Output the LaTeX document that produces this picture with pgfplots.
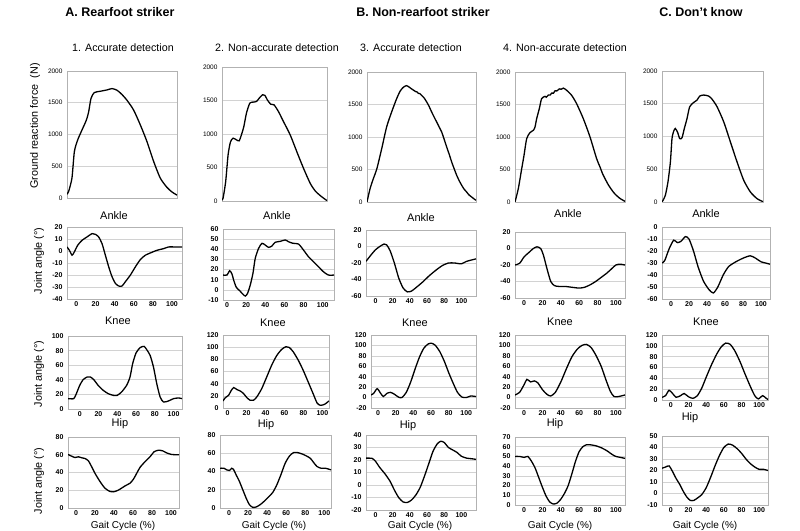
\documentclass[border=0pt]{standalone}
\usepackage{fontspec}
\setmainfont{Liberation Sans}
\usepackage{pgfplots}
\pgfplotsset{compat=1.18}
\pgfplotsset{
  panel/.style={
    scale only axis, anchor=south west,
    axis line style={gray!60, line width=0.6pt},
    ymajorgrids, grid style={gray!35, line width=0.6pt},
    major tick length=0pt,
    /pgf/number format/assume math mode=true,
    /pgf/number format/1000 sep={},
    ticklabel style={font=\fontsize{7}{8}\selectfont\bfseries},
    yticklabel style={xshift=-1pt},
    xticklabel style={yshift=0.5pt},
    xtick={0,20,...,100},
    scaled y ticks=false,
    every axis plot post/.append style={black, line width=1.3pt, smooth, tension=0.4, mark=none},
  },
  grf/.style={panel, xmin=0, xmax=100, ymin=0, ymax=2000, ytick={0,500,...,2000}, xtick=\empty,
    ticklabel style={font=\fontsize{6.5}{7}\selectfont\mdseries}},
}
\begin{document}
\begin{tikzpicture}
\useasboundingbox (0,0) rectangle (800pt,530pt);
% ---------- titles ----------
\node[font=\fontsize{12.5}{14}\selectfont\bfseries] at (120pt,518pt) {A. Rearfoot striker};
\node[font=\fontsize{12.5}{14}\selectfont\bfseries] at (423pt,518pt) {B. Non-rearfoot striker};
\node[font=\fontsize{12.5}{14}\selectfont\bfseries] at (701pt,518pt) {C. Don't know};
\node[font=\fontsize{10.7}{12}\selectfont] at (123pt,482pt) {1. Accurate detection};
\node[font=\fontsize{10.7}{12}\selectfont] at (277pt,482pt) {2. Non-accurate detection};
\node[font=\fontsize{10.7}{12}\selectfont] at (411pt,482pt) {3. Accurate detection};
\node[font=\fontsize{10.7}{12}\selectfont] at (565pt,482pt) {4. Non-accurate detection};
\node[font=\fontsize{10.8}{12}\selectfont, rotate=90] at (35pt,404pt) {Ground reaction force\ \ (N)};
\node[font=\fontsize{10.8}{12}\selectfont, rotate=90] at (39pt,269pt) {Joint angle (°)};
\node[font=\fontsize{10.8}{12}\selectfont, rotate=90] at (39pt,156pt) {Joint angle (°)};
\node[font=\fontsize{10.8}{12}\selectfont, rotate=90] at (39pt,49pt) {Joint angle (°)};
% row titles
\foreach \x/\y in {114/314,277/314,421/312,568/316,706/316}{\node[font=\fontsize{11}{12}\selectfont] at (\x pt,\y pt) {Ankle};}
\foreach \x/\y in {118/209,273/207,415/207,560/208,706/208}{\node[font=\fontsize{11}{12}\selectfont] at (\x pt,\y pt) {Knee};}
\foreach \x/\y in {120/106,266/105,408/104,555/106,690/112}{\node[font=\fontsize{11}{12}\selectfont] at (\x pt,\y pt) {Hip};}
\foreach \x in {123,274,420,560,705}{\node[font=\fontsize{10}{12}\selectfont] at (\x pt,4.5pt) {Gait Cycle (\%)};}

% ================= ROW 1: GRF =================
\begin{axis}[grf, at={(67pt,332pt)}, width=110pt, height=127pt]
\addplot coordinates {(0,60) (1.5,104) (4.5,313) (6.7,731) (9.7,914) (13.6,1070) (17.6,1227) (19.7,1358) (21.8,1567) (24.8,1660) (30.3,1681) (36.4,1702) (40.9,1723) (45.5,1697) (50,1629) (54.5,1540) (60.6,1384) (66.7,1149) (72.7,888) (78.8,574) (84.8,313) (90.9,167) (95.5,94) (100,45)};
\end{axis}
\begin{axis}[grf, at={(222pt,329pt)}, width=105pt, height=134pt]
\addplot coordinates {(0,20) (1,40) (3.5,289) (5.8,688) (8,878) (10.5,938) (13.7,913) (16.3,898) (18.5,988) (20.8,1112) (23.3,1312) (26.5,1461) (29.7,1476) (32.9,1486) (35.5,1536) (38.7,1586) (40.9,1576) (43.1,1511) (46.3,1446) (49.5,1436) (53.7,1337) (58.5,1187) (64.9,988) (71.2,738) (77.6,489) (84,264) (88.8,150) (93.6,80) (100,5)};
\end{axis}
\begin{axis}[grf, at={(367pt,328pt)}, width=109pt, height=130pt]
\addplot coordinates {(0,0) (2.8,205) (5.8,359) (8.9,503) (13.5,821) (18,1154) (22.6,1385) (27.2,1590) (30.3,1703) (33,1760) (36,1790) (38.5,1770) (40.5,1745) (42.5,1722) (44.5,1700) (46,1692) (47,1672) (48.5,1668) (50,1641) (52,1610) (54.8,1538) (57,1470) (59.3,1385) (61.5,1310) (63.9,1231) (66,1160) (68.5,1077) (70.5,980) (73.1,846) (75.5,730) (77.7,615) (80,510) (82.3,410) (84.5,330) (86.9,256) (89,200) (91.4,154) (93.5,110) (96,77) (98,50) (100,26)};
\end{axis}
\begin{axis}[grf, at={(515pt,328pt)}, width=110pt, height=130pt]
\addplot coordinates {(0,0) (3,205) (6.1,513) (8.2,718) (10.6,974) (13.6,1067) (16.7,1103) (18.2,1154) (19.7,1282) (22.1,1436) (24.2,1590) (27.3,1625) (28.5,1612) (30.3,1645) (32,1645) (33.3,1675) (35,1675) (36.4,1712) (38,1708) (40.3,1740) (42,1735) (43.9,1752) (45.5,1738) (47,1718) (51.5,1641) (56,1513) (62.1,1282) (68.2,1000) (74.2,667) (77.3,538) (80,420) (85,260) (90,140) (95,60) (100,10)};
\end{axis}
\begin{axis}[grf, at={(662pt,328pt)}, width=101pt, height=131pt]
\addplot coordinates {(0,0) (1,26) (3.3,102) (5.9,306) (8.3,612) (9.9,969) (11.6,1082) (13.2,1122) (15.5,1061) (17.5,969) (19.8,980) (22.1,1122) (24.8,1276) (27.4,1454) (31.4,1520) (34.7,1556) (37.3,1617) (41.3,1633) (46.2,1617) (49.5,1571) (54.5,1454) (61.1,1224) (67.7,918) (74.3,612) (80.9,332) (87.5,153) (94.1,51) (100,5)};
\end{axis}

% ================= ROW 2: Ankle =================
\begin{axis}[panel, at={(67pt,231pt)}, width=115pt, height=72pt, xmin=-9.8, xmax=110.4, ymin=-40, ymax=20, ytick={-40,-30,...,20}]
\addplot coordinates {(-9.8,3.4) (-7.3,0.6) (-4.5,-3.5) (-2.1,-0.7) (1.4,4.8) (5.9,8.9) (11.1,11.7) (16.4,14.5) (19.9,13.9) (23.3,11.7) (26.8,6.2) (30.3,-3.5) (33.8,-13.2) (37.3,-21.5) (40.8,-27) (44.3,-29.2) (47.7,-29.2) (51.2,-25.6) (56.4,-20.1) (61.7,-13.2) (66.9,-7.1) (72.1,-3.5) (77.4,-1.6) (84.3,0.6) (91.3,2.0) (96.5,3.4) (101.7,3.4) (110.4,3.4)};
\end{axis}
\begin{axis}[panel, at={(223pt,230pt)}, width=111pt, height=71pt, xmin=-4.2, xmax=111.8, ymin=-10, ymax=60, ytick={-10,0,...,60}]
\addplot coordinates {(-4.2,14.6) (0,14.6) (2.8,18.9) (5.2,15.6) (6.9,9.7) (9.7,2.5) (13.2,-0.8) (16.7,-4.4) (19.1,-6.1) (21.5,-3.4) (24.3,4.8) (27.1,16.3) (29.5,31.1) (33,40.9) (36.5,45.9) (39.9,44.2) (43.4,41.9) (46.9,43.2) (50.3,46.9) (55.6,47.8) (60.8,49.2) (64.2,47.5) (68.8,45.9) (74.7,45.2) (79.9,39.3) (85.1,32.7) (90.3,27.8) (95.5,22.9) (100.7,17.9) (105.9,14.6) (111.8,14.6)};
\end{axis}
\begin{axis}[panel, at={(366pt,234pt)}, width=110pt, height=66pt, xmin=-11, xmax=117, ymin=-60, ymax=20, ytick={-60,-40,...,20}]
\addplot coordinates {(-11,-18) (-5,-10) (0,-4) (5,0) (10,3) (13,2) (17,-5) (22,-20) (27,-38) (32,-50) (37,-55) (42,-54) (47,-50) (55,-43) (62,-36) (70,-29) (78,-23) (85,-20) (92,-20) (100,-21) (106,-18) (117,-15)};
\end{axis}
\begin{axis}[panel, at={(515pt,232pt)}, width=110pt, height=66pt, xmin=-10, xmax=110, ymin=-60, ymax=20, ytick={-60,-40,...,20}]
\addplot coordinates {(-10,-20) (-5,-18) (0,-10) (5,-5) (10,0) (14,2) (18,0) (21,-8) (25,-25) (29,-40) (33,-45) (38,-46) (45,-46) (52,-47) (60,-48) (66,-47) (72,-44) (78,-40) (84,-35) (90,-30) (95,-25) (100,-20) (105,-19) (110,-20)};
\end{axis}
\begin{axis}[panel, at={(662pt,231pt)}, width=108pt, height=72pt, xmin=-10, xmax=110, ymin=-60, ymax=0, ytick={-60,-50,...,0}]
\addplot coordinates {(-10,-30) (-7,-28) (-2,-18) (3,-11) (7,-13) (11,-12) (16,-8) (20,-10) (25,-20) (30,-33) (36,-45) (42,-52) (47,-55) (52,-50) (58,-40) (64,-33) (72,-29) (80,-26) (88,-24) (94,-26) (100,-29) (105,-30) (110,-31)};
\end{axis}

% ================= ROW 3: Knee =================
\begin{axis}[panel, at={(68pt,121pt)}, width=114pt, height=73pt, xmin=-12.5, xmax=109, ymin=0, ymax=100, ytick={0,20,...,100}]
\addplot coordinates {(-12.5,14.2) (-6.4,14.2) (-3.6,21) (0,32.4) (3.6,40.2) (7.9,43.8) (11.4,43.8) (15,40.2) (19.6,32.4) (25,25.6) (30.4,21) (35.7,18.7) (40,18.7) (44.6,23.3) (50,32.4) (53.6,43.8) (56.4,62.1) (60,76.7) (64.3,84) (68.6,85.8) (71.4,81.3) (75,73.5) (78.6,57.5) (82.1,34.7) (85.7,16.4) (89.3,9.6) (94.6,11) (100,14.2) (105.4,15.1) (109,14.2)};
\end{axis}
\begin{axis}[panel, at={(223pt,122pt)}, width=106pt, height=73pt, xmin=-4.9, xmax=107, ymin=0, ymax=120, ytick={0,20,...,120}]
\addplot coordinates {(-4.9,11.6) (-2.4,17) (1,20.9) (3.5,28) (6.3,33.6) (9.8,30.3) (13.3,28) (16.8,23.7) (20.3,17) (23.8,12.7) (27.3,12.7) (30.8,18.2) (36,31.9) (41.3,51.2) (46.5,70.4) (51.7,85.9) (57,96.3) (61.5,100.7) (65,99.6) (69.2,92.5) (74.5,78.7) (79.7,62.2) (85,42.9) (90.2,23.7) (94.4,8.3) (97.9,4.4) (102.4,6.1) (107,11.6)};
\end{axis}
\begin{axis}[panel, at={(371pt,122pt)}, width=105pt, height=73pt, xmin=-8, xmax=111, ymin=-20, ymax=120, ytick={-20,0,...,120}]
\addplot coordinates {(-8,5) (-5,8) (-1,17) (3,8) (6,2) (10,8) (14,10) (18,7) (23,1) (27,0) (32,10) (37,30) (42,55) (47,78) (52,95) (57,103) (61,104) (65,100) (70,88) (75,70) (80,48) (85,28) (90,10) (95,1) (100,0) (105,3) (111,2)};
\end{axis}
\begin{axis}[panel, at={(515pt,122pt)}, width=110pt, height=73pt, xmin=-10, xmax=110, ymin=-20, ymax=120, ytick={-20,0,...,120}]
\addplot coordinates {(-10,5) (-5,10) (0,25) (3,35) (7,30) (11,32) (15,28) (20,15) (25,6) (29,3) (34,10) (40,30) (46,55) (52,78) (58,93) (63,100) (68,102) (73,96) (78,82) (84,60) (89,35) (94,12) (98,2) (103,2) (110,5)};
\end{axis}
\begin{axis}[panel, at={(662pt,130pt)}, width=106pt, height=65pt, xmin=-10, xmax=110, ymin=0, ymax=120, ytick={0,20,...,120}]
\addplot coordinates {(-10,5) (-6,8) (-2,18) (2,12) (6,5) (11,8) (15,12) (20,6) (25,3) (30,8) (35,22) (40,42) (46,65) (52,85) (57,98) (62,105) (67,103) (72,92) (78,72) (84,48) (90,25) (95,8) (99,2) (104,8) (108,3) (110,1)};
\end{axis}

% ================= ROW 4: Hip =================
\begin{axis}[panel, at={(68pt,22pt)}, width=111pt, height=71pt, xmin=-8.4, xmax=108.4, ymin=0, ymax=80, ytick={0,20,...,80}]
\addplot coordinates {(-8.4,60.3) (-4.6,58.4) (-1.1,56.9) (2.5,57.7) (6,56.6) (9.5,55.8) (13,53.2) (16.5,46.5) (20,39.1) (25.3,29.8) (30.5,22.3) (35.8,18.6) (39.3,18.2) (42.8,19.3) (46.3,21.2) (51.6,24.9) (56.8,27.9) (60.4,32.4) (63.9,39.1) (67.4,45.8) (72.6,52.1) (77.9,57.7) (82.1,63.3) (86.7,65.1) (91.2,64.4) (95.4,62.1) (100.7,60.3) (108.4,60)};
\end{axis}
\begin{axis}[panel, at={(220pt,22pt)}, width=111pt, height=73pt, xmin=-9.5, xmax=107, ymin=0, ymax=80, ytick={0,20,...,80}]
\addplot coordinates {(-9.5,43.6) (-5.3,43.6) (-2.5,41.8) (0.4,41.1) (2.8,43.6) (4.6,42.5) (7.4,36.4) (10.9,29.1) (14.4,20) (17.9,10.9) (21.4,3.6) (24.9,0.7) (28.4,1.1) (32.6,3.6) (36.8,7.3) (41.4,12) (45.9,17.1) (50.2,25.5) (54.4,36.4) (58.9,49.1) (63.5,57.1) (67.7,60.7) (71.9,60.7) (76.5,59.3) (81.1,57.1) (85.3,54.5) (88.8,49.8) (92.3,45.5) (96.5,43.6) (101.1,43.6) (107,41.8)};
\end{axis}
\begin{axis}[panel, at={(366pt,20pt)}, width=110pt, height=75pt, xmin=-11, xmax=117, ymin=-20, ymax=40, ytick={-20,-10,...,40}]
\addplot coordinates {(-11,21.5) (-4,21.3) (0,19) (5,14) (11,9) (17,3) (22,-4) (27,-10) (32,-13.5) (37,-14) (42,-12) (47,-8) (52,-2) (57,7) (62,17) (67,27) (72,33) (76,35) (80,34) (85,30) (90,28) (95,26) (100,23) (106,21.5) (112,21) (117,20.5)};
\end{axis}
\begin{axis}[panel, at={(515pt,25pt)}, width=110pt, height=68pt, xmin=-10, xmax=110, ymin=0, ymax=70, ytick={0,10,...,70}]
\addplot coordinates {(-10,50) (-5,50) (0,49) (4,50) (8,45) (12,38) (16,28) (20,18) (24,9) (28,3) (32,1) (36,2) (40,6) (44,12) (48,20) (52,32) (56,45) (60,55) (64,60) (68,62) (72,62) (78,61) (84,59) (90,56) (96,52) (100,50) (105,49) (110,48)};
\end{axis}
\begin{axis}[panel, at={(662pt,25pt)}, width=106pt, height=69pt, xmin=-10, xmax=110, ymin=-10, ymax=50, ytick={-10,0,...,50}]
\addplot coordinates {(-10,22) (-6,23) (-2,24) (2,19) (6,13) (10,8) (14,2) (18,-3) (22,-6) (26,-6) (30,-4) (35,-1) (40,5) (45,14) (50,24) (55,33) (60,40) (65,43) (70,42) (75,39) (80,35) (85,30) (90,26) (95,23) (100,21) (105,21) (110,20)};
\end{axis}
\end{tikzpicture}
\end{document}
